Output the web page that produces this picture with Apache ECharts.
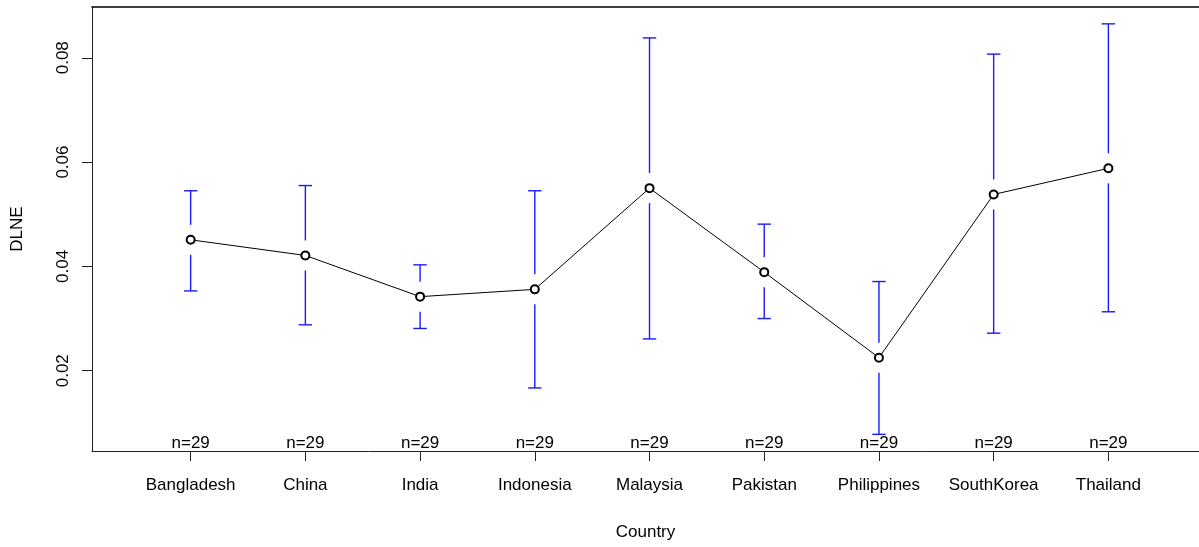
<!DOCTYPE html>
<html>
<head>
<meta charset="utf-8">
<script src="https://cdn.jsdelivr.net/npm/echarts@6/dist/echarts.min.js"></script>
<style>
  html, body { margin: 0; padding: 0; background: #fff; }
  #chart { width: 1199px; height: 547px; }
</style>
</head>
<body>
<div id="chart"></div>
<script>
// Group means of DLNE by country with 95% confidence intervals
const countries = ['Bangladesh', 'China', 'India', 'Indonesia', 'Malaysia', 'Pakistan', 'Philippines', 'SouthKorea', 'Thailand'];
const means = [0.0451, 0.0421, 0.0342, 0.0356, 0.0550, 0.0389, 0.0225, 0.0538, 0.0588];
const upper = [0.0545, 0.0555, 0.0403, 0.0545, 0.0838, 0.0481, 0.0371, 0.0807, 0.0865];
const lower = [0.0353, 0.0288, 0.0281, 0.0167, 0.0261, 0.0300, 0.0078, 0.0272, 0.0313];
const counts = [29, 29, 29, 29, 29, 29, 29, 29, 29];
const yTicks = [0.02, 0.04, 0.06, 0.08];

const positions = countries.map((c, i) => i + 1);
const font = 'Liberation Sans, Arial, sans-serif';
const X_MIN = 0.14, X_MAX = 9.79;
const Y_MIN = 0.00461, Y_MAX = 0.08973;

const chart = echarts.init(document.getElementById('chart'));

const ciData = countries.map((c, i) => [i + 1, means[i], lower[i], upper[i], counts[i]]);

chart.setOption({
  animation: false,
  grid: { left: 92, right: 0, top: 7, bottom: 96 },
  xAxis: [{
    type: 'value',
    min: X_MIN,
    max: X_MAX,
    splitLine: { show: false },
    axisLine: { show: true, onZero: false, lineStyle: { color: '#222', width: 1 } },
    axisTick: { show: true, customValues: positions, length: 10, lineStyle: { color: '#222' } },
    axisLabel: {
      customValues: positions,
      formatter: v => countries[Math.round(v) - 1] || '',
      color: '#000', fontSize: 17, fontFamily: font, margin: 26
    },
    name: 'Country',
    nameLocation: 'middle',
    nameGap: 73,
    nameTextStyle: { color: '#000', fontSize: 17, fontFamily: font }
  }, {
    type: 'value',
    position: 'top',
    min: X_MIN,
    max: X_MAX,
    splitLine: { show: false },
    axisLine: { show: true, lineStyle: { color: '#000', width: 1.5 } },
    axisTick: { show: false },
    axisLabel: { show: false }
  }],
  yAxis: {
    type: 'value',
    min: Y_MIN,
    max: Y_MAX,
    splitLine: { show: false },
    axisLine: { show: true, lineStyle: { color: '#222', width: 1 } },
    axisTick: { show: true, customValues: yTicks, length: 10, lineStyle: { color: '#222' } },
    axisLabel: {
      customValues: yTicks,
      formatter: v => v.toFixed(2),
      rotate: 90,
      color: '#000', fontSize: 17, fontFamily: font, margin: 20
    },
    name: 'DLNE',
    nameLocation: 'middle',
    nameGap: 66,
    nameRotate: 90,
    nameTextStyle: { color: '#000', fontSize: 17, fontFamily: font }
  },
  series: [{
    // confidence-interval bars with a gap around each mean, plus sample sizes
    type: 'custom',
    data: ciData,
    z: 2,
    renderItem: function (params, api) {
      const x = api.value(0);
      const m = api.coord([x, api.value(1)]);
      const lo = api.coord([x, api.value(2)]);
      const hi = api.coord([x, api.value(3)]);
      const base = api.coord([x, Y_MIN]);
      const gap = 15, cap = 6.7;
      const style = { stroke: '#1a1aff', lineWidth: 1.4 };
      const children = [
        { type: 'line', shape: { x1: m[0], y1: hi[1], x2: m[0], y2: m[1] - gap }, style },
        { type: 'line', shape: { x1: m[0], y1: m[1] + gap, x2: m[0], y2: lo[1] }, style },
        { type: 'line', shape: { x1: m[0] - cap, y1: hi[1], x2: m[0] + cap, y2: hi[1] }, style },
        { type: 'line', shape: { x1: m[0] - cap, y1: lo[1], x2: m[0] + cap, y2: lo[1] }, style },
        {
          type: 'text',
          x: m[0], y: base[1] + 1,
          style: {
            text: 'n=' + api.value(4),
            fill: '#000', fontSize: 17, fontFamily: font,
            align: 'center', verticalAlign: 'bottom'
          }
        }
      ];
      return { type: 'group', children };
    }
  }, {
    type: 'line',
    data: countries.map((c, i) => [i + 1, means[i]]),
    z: 3,
    symbol: 'emptyCircle',
    symbolSize: 8,
    lineStyle: { color: '#000', width: 1 },
    itemStyle: { color: '#000', borderColor: '#000', borderWidth: 1 }
  }]
});
</script>
</body>
</html>
